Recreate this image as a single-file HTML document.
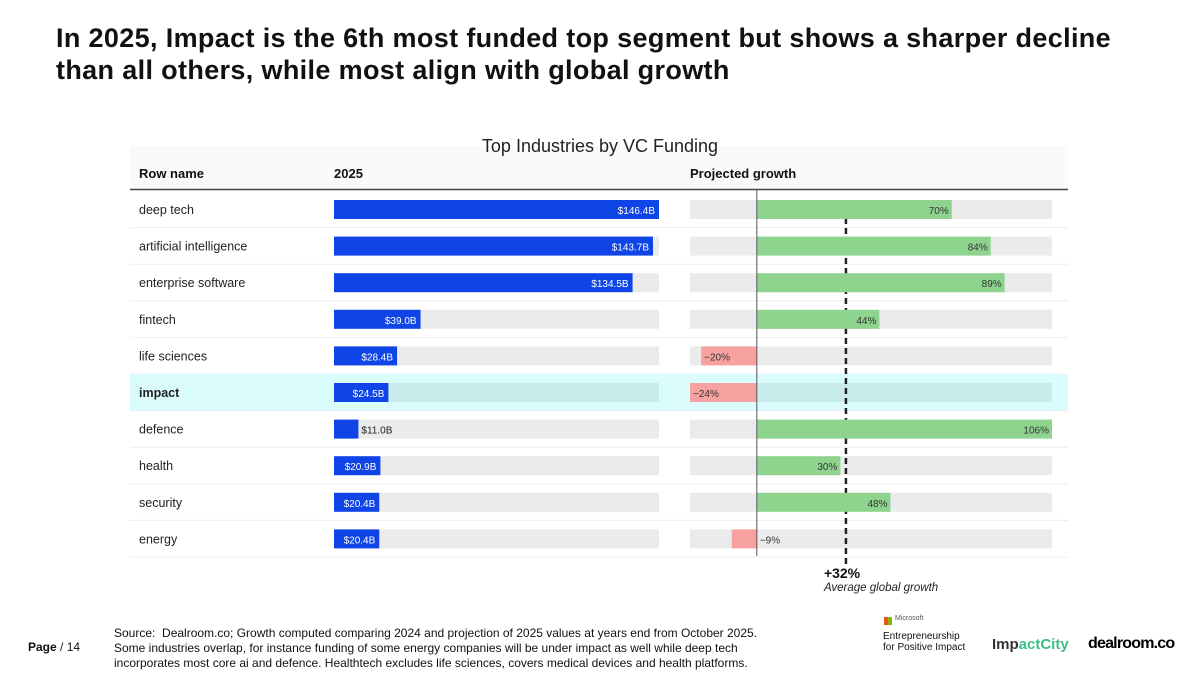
<!DOCTYPE html>
<html><head><meta charset="utf-8"><style>
body{margin:0;width:1200px;height:675px;background:#fff;font-family:"Liberation Sans",sans-serif;overflow:hidden;position:relative}
.t{position:absolute;white-space:nowrap}
</style></head><body>
<div class="t" style="left:56px;top:22px;font-size:27px;font-weight:bold;line-height:32px;color:#111;letter-spacing:0.35px">In 2025, Impact is the 6th most funded top segment but shows a sharper decline<br>than all others, while most align with global growth</div>
<svg id="chart" width="1200" height="675" style="position:absolute;left:0;top:0"></svg>
<div class="t" style="left:28px;top:640px;font-size:12px;color:#111"><b>Page</b> / 14</div>
<div class="t" style="left:114px;top:626px;font-size:12px;line-height:15px;color:#111">Source:&nbsp; Dealroom.co; Growth computed comparing 2024 and projection of 2025 values at years end from October 2025.<br>Some industries overlap, for instance funding of some energy companies will be under impact as well while deep tech<br>incorporates most core ai and defence. Healthtech excludes life sciences, covers medical devices and health platforms.</div>
<div style="position:absolute;left:884px;top:617px;width:8px;height:8px;background:linear-gradient(90deg,#f25022 50%,#7fba00 50%)"></div>
<div class="t" style="left:895px;top:615px;font-size:7px;color:#555">Microsoft</div>
<div class="t" style="left:883px;top:631px;font-size:10px;line-height:11px;color:#111">Entrepreneurship<br>for Positive Impact</div>
<div class="t" style="left:992px;top:636px;font-size:15px;font-weight:bold;color:#333">Imp<span style="color:#3cc08a">actCity</span></div>
<div class="t" style="left:1088px;top:635px;font-size:16px;font-weight:bold;color:#000;letter-spacing:-0.8px">dealroom.co</div>
<script>
const categories=["deep tech","artificial intelligence","enterprise software","fintech","life sciences","impact","defence","health","security","energy"];
const funding=[146.4,143.7,134.5,39.0,28.4,24.5,11.0,20.9,20.4,20.4];
const growth=[70,84,89,44,-20,-24,106,30,48,-9];
const avgGrowth=32;
const highlight="impact";
const svg=document.getElementById('chart');const NS="http://www.w3.org/2000/svg";
function el(t,a,p){const e=document.createElementNS(NS,t);for(const k in a)e.setAttribute(k,a[k]);(p||svg).appendChild(e);return e;}
const fMax=Math.max(...funding);
const xF=v=>334+v/fMax*325;
const gMin=Math.min(0,...growth),gMax=Math.max(...growth);
const xG=v=>690+(v-gMin)/(gMax-gMin)*362;
const rowY=i=>191+i*36.6;
let e;
el('rect',{x:130,y:146,width:938,height:43,fill:'#fafafa'});
e=el('text',{x:600,y:152,'text-anchor':'middle','font-size':18,fill:'#222'});e.textContent="Top Industries by VC Funding";


[["Row name",139],["2025",334],["Projected growth",690]].forEach(([t,x])=>{e=el('text',{x:x,y:178,'font-size':13,'font-weight':'bold',fill:'#111'});e.textContent=t;

});
categories.forEach((c,i)=>{
 const y=rowY(i);
 if(c===highlight){e=el('rect',{x:130,y:y,width:938,height:36.6,fill:'#dafcfc'});}
 el('line',{x1:130,x2:1068,y1:y+36.6,y2:y+36.6,stroke:'#eee'});
 e=el('text',{x:139,y:y+23,'font-size':12.5,fill:'#222','font-weight':c===highlight?'bold':'normal'});e.textContent=c;
 
 
 el('rect',{x:334,y:y+9,width:325,height:19,fill:c===highlight?'#c8ecec':'#ebebeb'});
 el('rect',{x:690,y:y+9,width:362,height:19,fill:c===highlight?'#c8ecec':'#ebebeb'});
});
el('line',{x1:130,x2:1068,y1:189.5,y2:189.5,stroke:'#444','stroke-width':1.5});
e=el('line',{x1:xG(avgGrowth),x2:xG(avgGrowth),y1:218,y2:566,stroke:'#222','stroke-width':2.5,'stroke-dasharray':'6,4'});


categories.forEach((c,i)=>{
 const y=rowY(i)+9;
 const w=xF(funding[i])-334;
 e=el('rect',{x:334,y:y,width:w,height:19,fill:'#0f44e6'});
 
 
 const lbl='$'+funding[i].toFixed(1)+'B';
 const inside=w>35;
 e=el('text',{x:inside?xF(funding[i])-4:xF(funding[i])+3,y:y+14,'font-size':10,fill:inside?'#fff':'#222','text-anchor':inside?'end':'start'});e.textContent=lbl;
 
 
 const g=growth[i],x0=xG(0),x1=xG(g);
 e=el('rect',{x:Math.min(x0,x1),y:y,width:Math.abs(x1-x0),height:19,fill:g>=0?'#8ed48f':'#f7a1a1'});
 
 
 const gl=(g<0?'\u2212':'')+Math.abs(g)+'%';
 let tx,anchor;
 if(g>=0){tx=x1-3;anchor='end';}else if(x0-x1>35){tx=x1+3;anchor='start';}else{tx=x0+3;anchor='start';}
 e=el('text',{x:tx,y:y+14,'font-size':10,fill:'#333','text-anchor':anchor});e.textContent=gl;
 
 
});
el('line',{x1:xG(0),x2:xG(0),y1:190,y2:556,stroke:'#555','stroke-width':1});
e=el('text',{x:xG(avgGrowth)-22,y:578,'font-size':14,'font-weight':'bold',fill:'#111'});e.textContent='+'+avgGrowth+'%';


e=el('text',{x:xG(avgGrowth)-22,y:591,'font-size':11.5,'font-style':'italic',fill:'#222'});e.textContent='Average global growth';


</script>
</body></html>
